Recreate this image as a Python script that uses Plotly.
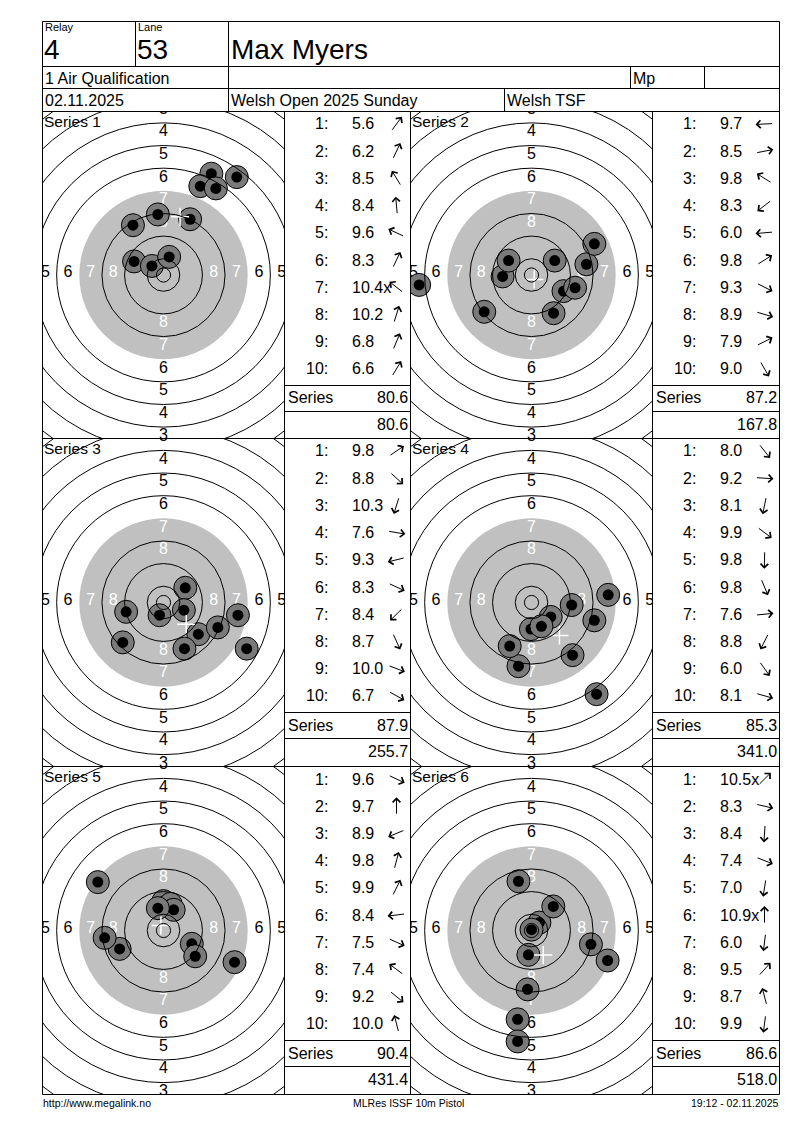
import math
import plotly.graph_objects as go

# ---------------- data ----------------
relay_label, relay = "Relay", "4"
lane_label, lane = "Lane", "53"
shooter = "Max Myers"
event = "1 Air Qualification"
mp_label = "Mp"
date = "02.11.2025"
competition = "Welsh Open 2025 Sunday"
club = "Welsh TSF"
footer_left = "http://www.megalink.no"
footer_mid = "MLRes ISSF 10m Pistol"
footer_right = "19:12 - 02.11.2025"

series_names = ["Series 1", "Series 2", "Series 3", "Series 4", "Series 5", "Series 6"]

# shot scores (as printed) and impact positions in mm (x right, y up)
s1_scores = ["5.6", "6.2", "8.5", "8.4", "9.6", "8.3", "10.4x", "10.2", "6.8", "6.6"]
s1_x = [25.9, 16.9, -10.8, -2.0, -10.4, 9.4, -4.1, 2.0, 13.0, 18.5]
s1_y = [34.6, 35.8, 17.6, 21.4, 4.8, 19.7, 3.2, 6.4, 31.4, 30.6]

s2_scores = ["9.7", "8.5", "9.8", "8.3", "6.0", "9.8", "9.3", "8.9", "7.9", "9.0"]
s2_x = [-10.2, 19.4, -8.1, -16.7, -39.7, 8.2, 11.3, 15.4, 22.2, 7.8]
s2_y = [-0.5, 3.8, 5.1, -13.0, -3.5, 5.1, -5.7, -4.5, 11.0, -13.5]

s3_scores = ["9.8", "8.8", "10.3", "7.6", "9.3", "8.3", "8.4", "8.7", "10.0", "6.7"]
s3_x = [7.7, 12.3, -1.4, 26.3, -13.2, 19.2, -14.4, 7.4, 7.2, 29.4]
s3_y = [5.2, -11.2, -4.5, -4.5, -3.3, -8.8, -14.1, -16.3, -2.7, -16.3]

s4_scores = ["8.0", "9.2", "8.1", "9.9", "9.8", "9.8", "7.6", "8.8", "6.0", "8.1"]
s4_x = [14.5, 14.2, -4.6, 6.8, -0.2, 3.5, 27.1, -7.7, 23.0, 22.2]
s4_y = [-18.6, -0.9, -22.5, -5.1, -9.4, -8.4, 2.7, -15.4, -32.4, -6.3]

s5_scores = ["9.6", "9.7", "8.9", "9.8", "9.9", "8.4", "7.5", "7.4", "9.2", "10.0"]
s5_x = [10.0, 0.0, -15.5, 2.5, 3.6, -20.8, 25.1, -23.2, 11.2, -2.0]
s5_y = [-4.7, 10.4, -6.5, 9.4, 7.3, -2.6, -11.2, 17.1, -9.1, 7.9]

s6_scores = ["10.5x", "8.3", "8.4", "7.4", "7.0", "10.9x", "6.0", "9.5", "8.7", "9.9"]
s6_x = [2.8, 21.0, -1.4, 26.9, -4.9, 0.0, -4.9, 7.7, -4.6, -1.1]
s6_y = [2.8, -4.9, -20.8, -10.6, -31.4, 0.3, -39.2, 8.5, 17.4, -8.6]

# ISSF 10 m air pistol target (mm)
ring_radii = [2.5, 5.75, 13.75, 21.75, 37.75, 45.75, 53.75, 61.75, 69.75, 77.75]
black_radius = 29.75
zone_labels = ["3", "4", "5", "6", "7", "8"]
zone_radii = [57.75, 49.75, 41.75, 33.75, 25.75, 17.75]
white_zones = ["7", "8"]

# ---------------- layout geometry (page pixels) ----------------
W, H = 800, 1130
SCALE = 2.83  # px per mm
LABEL_LIFT = 0.7  # mm, ring numbers sit slightly high
FONT = "Liberation Sans, Arial, sans-serif"
PAGE_L, PAGE_R, PAGE_T, PAGE_B = 42.5, 779.5, 21.5, 1094.5
ROW_Y = [111.5, 438.5, 766.5, 1094.5]
COL_X = [(42.5, 284.5, 410.5), (410.5, 652.5, 779.5)]


def X(px):
    return px / W


def Y(py):
    return 1 - py / H


shapes = []
annotations = []
LINE = dict(color="black", width=1)


def hline(x0, x1, y):
    shapes.append(dict(type="line", xref="paper", yref="paper", x0=X(x0), x1=X(x1),
                       y0=Y(y), y1=Y(y), line=LINE, layer="above"))


def vline(x, y0, y1):
    shapes.append(dict(type="line", xref="paper", yref="paper", x0=X(x), x1=X(x),
                       y0=Y(y0), y1=Y(y1), line=LINE, layer="above"))


def text(t, px, py, size, anchor="left", color="black"):
    annotations.append(dict(text=t, x=X(px), y=Y(py), xref="paper", yref="paper",
                            xanchor=anchor, yanchor="middle", showarrow=False,
                            font=dict(family=FONT, size=size, color=color)))


# page frame and header grid
shapes.append(dict(type="rect", xref="paper", yref="paper", x0=X(PAGE_L), x1=X(PAGE_R),
                   y0=Y(PAGE_B), y1=Y(PAGE_T), line=LINE, layer="above"))
hline(PAGE_L, PAGE_R, 66.5)
hline(PAGE_L, PAGE_R, 88.5)
hline(PAGE_L, PAGE_R, 111.5)
vline(135.5, 21.5, 66.5)
vline(228.5, 21.5, 111.5)
vline(630.5, 66.5, 88.5)
vline(704.5, 66.5, 88.5)
vline(504.5, 88.5, 111.5)
hline(PAGE_L, PAGE_R, ROW_Y[1])
hline(PAGE_L, PAGE_R, ROW_Y[2])
for xv in (284.5, 410.5, 652.5):
    vline(xv, ROW_Y[0], PAGE_B)

text(relay_label, 43, 27.5, 11)
text(lane_label, 136, 27.5, 11)
text(relay, 42, 49.5, 28)
text(lane, 135, 49.5, 28)
text(shooter, 229, 49.5, 28)
text(event, 42.5, 78, 16)
text(mp_label, 630.5, 78, 16)
text(date, 42.5, 100, 16)
text(competition, 228.5, 100, 16)
text(club, 504.5, 100, 16)
text(footer_left, 41, 1102.5, 10.5)
text(footer_mid, 408, 1102.5, 10.5, anchor="center")
text(footer_right, 781, 1102.5, 10.5, anchor="right")

fig = go.Figure()

all_scores = [s1_scores, s2_scores, s3_scores, s4_scores, s5_scores, s6_scores]
all_x = [s1_x, s2_x, s3_x, s4_x, s5_x, s6_x]
all_y = [s1_y, s2_y, s3_y, s4_y, s5_y, s6_y]

cumulative = 0.0
layout_axes = {}
for k in range(6):
    r, c = divmod(k, 2)
    tx0, tx1, bx1 = COL_X[c]
    y0, y1 = ROW_Y[r], ROW_Y[r + 1]
    aid = "" if k == 0 else str(k + 1)
    half_w = (tx1 - tx0) / 2 / SCALE
    half_h = (y1 - y0) / 2 / SCALE
    layout_axes[f"xaxis{aid}"] = dict(domain=[X(tx0), X(tx1)], range=[-half_w, half_w],
                                      visible=False, fixedrange=True, anchor=f"y{aid}")
    layout_axes[f"yaxis{aid}"] = dict(domain=[Y(y1), Y(y0)], range=[-half_h, half_h],
                                      visible=False, fixedrange=True, anchor=f"x{aid}")
    xr, yr = f"x{aid}", f"y{aid}"

    # aiming area and ring lines
    shapes.append(dict(type="circle", xref=xr, yref=yr, x0=-black_radius, x1=black_radius,
                       y0=-black_radius, y1=black_radius, fillcolor="#c0c0c0",
                       line=dict(width=0), layer="below"))
    for rr in ring_radii:
        shapes.append(dict(type="circle", xref=xr, yref=yr, x0=-rr, x1=rr, y0=-rr, y1=rr,
                           fillcolor="rgba(0,0,0,0)", line=LINE, layer="above"))

    # ring numbers
    lx, ly, lt, lc = [], [], [], []
    for lab, rad in zip(zone_labels, zone_radii):
        for dx, dy in ((0, 1), (0, -1), (-1, 0), (1, 0)):
            lx.append(dx * rad)
            ly.append(dy * rad + LABEL_LIFT)
            lt.append(lab)
            lc.append("white" if lab in white_zones else "black")
    fig.add_trace(go.Scatter(x=lx, y=ly, text=lt, mode="text", xaxis=xr, yaxis=yr,
                             textfont=dict(family=FONT, size=16, color=lc),
                             hoverinfo="skip", showlegend=False, cliponaxis=True))

    xs, ys, scores = all_x[k], all_y[k], all_scores[k]

    # shots, drawn in order (outer grey ring then black centre)
    sx, sy, ss, sc, slw = [], [], [], [], []
    for xv, yv in zip(xs, ys):
        sx += [xv, xv]
        sy += [yv, yv]
        ss += [23, 11]
        sc += ["#7a7a7a", "black"]
        slw += [1, 0]
    fig.add_trace(go.Scatter(x=sx, y=sy, mode="markers", xaxis=xr, yaxis=yr,
                             marker=dict(size=ss, color=sc, opacity=1,
                                         line=dict(color="black", width=slw)),
                             hoverinfo="skip", showlegend=False, cliponaxis=True))

    # group centre
    mx = sum(xs) / len(xs)
    my = sum(ys) / len(ys)
    fig.add_trace(go.Scatter(x=[mx], y=[my], mode="markers", xaxis=xr, yaxis=yr,
                             marker=dict(symbol="cross-thin", size=13, opacity=1,
                                         line=dict(color="white", width=1.5)),
                             hoverinfo="skip", showlegend=False, cliponaxis=True))

    # series label
    text(series_names[k], tx0 - 0.5, y0 + 9.5, 15.5)

    # score table
    L, R, T = tx1, bx1, y0
    total = 0.0
    for i, (sv, xv, yv) in enumerate(zip(scores, xs, ys)):
        cy = T + 12.5 + i * 27.2
        text(f"{i + 1}:", L + 45, cy, 16, anchor="right")
        text(sv, L + 65, cy, 16)
        th = math.atan2(yv, xv)
        ln = 18
        cx = L + 112
        hx = cx + ln / 2 * math.cos(th)
        hy = cy - ln / 2 * math.sin(th)
        annotations.append(dict(text="", x=X(hx), y=Y(hy), xref="paper", yref="paper",
                                showarrow=True, ax=-ln * math.cos(th), ay=ln * math.sin(th),
                                arrowhead=4, arrowsize=1.5, arrowwidth=1, arrowcolor="black",
                                standoff=0, startstandoff=0))
        total += float(sv.rstrip("x"))
    cumulative += total
    hline(L, R, T + 274)
    hline(L, R, T + 300)
    text("Series", L + 1, T + 286.5, 16)
    text(f"{total:.1f}", R - 1, T + 286.5, 16, anchor="right")
    text(f"{cumulative:.1f}", R - 1, T + 313, 16, anchor="right")

fig.update_layout(
    width=W, height=H,
    margin=dict(l=0, r=0, t=0, b=0),
    paper_bgcolor="white", plot_bgcolor="white",
    showlegend=False,
    shapes=shapes, annotations=annotations,
    **layout_axes,
)

fig.write_html("out.html", config={"displayModeBar": False},
               post_script="document.body.style.margin='0';")
